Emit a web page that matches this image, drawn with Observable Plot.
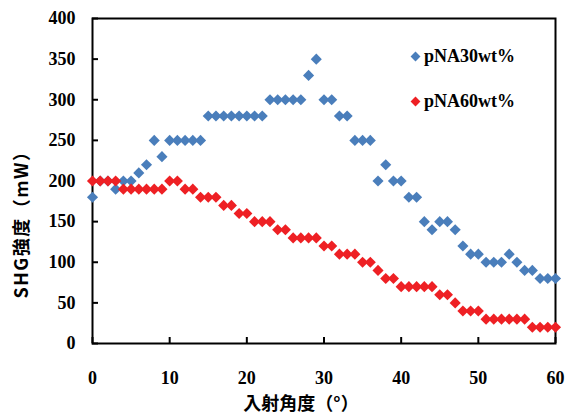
<!DOCTYPE html>
<html><head><meta charset="utf-8">
<script src="https://cdn.jsdelivr.net/npm/d3@7"></script>
<script src="https://cdn.jsdelivr.net/npm/@observablehq/plot@0.6"></script>
<style>
body{margin:0;background:#fff}
#wrap{position:relative;width:570px;height:416px;overflow:hidden}
#wrap svg text{font-weight:bold}
.t{position:absolute;font-weight:bold;white-space:nowrap;color:#000;line-height:1}
.serif{font-family:"Liberation Serif",serif;font-size:18px}
.cjk{font-family:"Noto Sans CJK JP",sans-serif;font-size:17px}
.sw{position:absolute;width:7px;height:7px;transform:rotate(45deg)}
</style></head><body><div id="wrap"></div>
<script>
const angles = [0,1,2,3,4,5,6,7,8,9,10,11,12,13,14,15,16,17,18,19,20,21,22,23,24,25,26,27,28,29,30,31,32,33,34,35,36,37,38,39,40,41,42,43,44,45,46,47,48,49,50,51,52,53,54,55,56,57,58,59,60];
const pNA30 = [180,200,200,190,200,200,210,220,250,230,250,250,250,250,250,280,280,280,280,280,280,280,280,300,300,300,300,300,330,350,300,300,280,280,250,250,250,200,220,200,200,180,180,150,140,150,150,140,120,110,110,100,100,100,110,100,90,90,80,80,80];
const pNA60 = [200,200,200,200,190,190,190,190,190,190,200,200,190,190,180,180,180,170,170,160,160,150,150,150,140,140,130,130,130,130,120,120,110,110,110,100,100,90,80,80,70,70,70,70,70,60,60,50,40,40,40,30,30,30,30,30,30,20,20,20,20];
const xTicks = [0,10,20,30,40,50,60];
const yTicks = [0,50,100,150,200,250,300,350,400];
const seriesNames = ["pNA30wt%","pNA60wt%"];
const colors = ["#4a7ebb","#ee2024"];
const xTitle = "入射角度（°）";
const yTitle = "SHG強度（mW）";

const rows30 = angles.map((a,i)=>({a, v:pNA30[i]}));
const rows60 = angles.map((a,i)=>({a, v:pNA60[i]}));

const chart = Plot.plot({
  width:570, height:416,
  marginLeft:92, marginRight:15, marginTop:18, marginBottom:73,
  style:{fontFamily:"Liberation Serif, serif", fontSize:"18px", color:"#000", background:"#fff"},
  x:{domain:[0,60]},
  y:{domain:[0,400]},
  marks:[
    Plot.axisX(xTicks,{tickSize:0, tickPadding:28, label:null, fontSize:18}),
    Plot.axisX(xTicks,{tickSize:-6, tickFormat:()=>"", label:null, strokeWidth:2}),
    Plot.axisY(yTicks,{tickSize:0, tickPadding:17, label:null, fontSize:18}),
    Plot.axisY(yTicks,{tickSize:-6, tickFormat:()=>"", label:null, strokeWidth:2}),
    Plot.frame({stroke:"#000", strokeWidth:2}),
    Plot.dot(rows30,{x:"a", y:"v", symbol:"diamond2", r:5, fill:colors[0]}),
    Plot.dot(rows60,{x:"a", y:"v", symbol:"diamond2", r:5, fill:colors[1]})
  ]
});
const wrap = document.getElementById("wrap");
wrap.appendChild(chart);

function addText(txt, cls, css){
  const d = document.createElement("div");
  d.className = "t " + cls;
  d.textContent = txt;
  Object.assign(d.style, css);
  wrap.appendChild(d);
  return d;
}
addText(xTitle, "cjk", {left:"301px", top:"402px", transform:"translate(-50%,-50%)", fontSize:"18px"});
addText(yTitle, "cjk", {left:"20px", top:"220px", transform:"translate(-50%,-50%) rotate(-90deg)", fontSize:"18px", letterSpacing:"1.5px"});
seriesNames.forEach((n,i)=>{
  const y = 56 + i*45;
  const s = document.createElement("div");
  s.className = "sw";
  Object.assign(s.style,{left:(415-3.5)+"px", top:(y-3.5)+"px", background:colors[i]});
  wrap.appendChild(s);
  addText(n, "serif", {left:"424px", top:y+"px", transform:"translateY(-50%)"});
});
</script></body></html>
